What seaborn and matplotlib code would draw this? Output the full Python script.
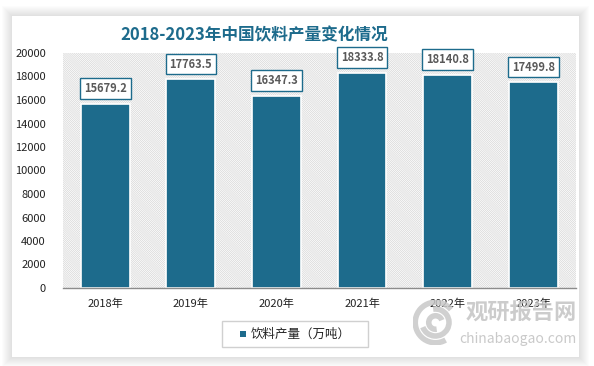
import matplotlib
matplotlib.use("Agg")
import matplotlib.pyplot as plt
import seaborn as sns
import pandas as pd
from matplotlib.patches import Rectangle, Arc

years = ["2018年", "2019年", "2020年", "2021年", "2022年", "2023年"]
values = [15679.2, 17763.5, 16347.3, 18333.8, 18140.8, 17499.8]
yticks = [0, 2000, 4000, 6000, 8000, 10000, 12000, 14000, 16000, 18000, 20000]
title = "2018-2023年中国饮料产量变化情况"
series_name = "饮料产量（万吨）"

sns.set_theme(style="white")
plt.rcParams['font.family'] = ['Noto Sans CJK SC', 'DejaVu Sans']
plt.rcParams['hatch.linewidth'] = 0.5

W, H = 594, 366
fig = plt.figure(figsize=(W / 100, H / 100), dpi=100)
fig.patch.set_facecolor('white')

def fx(px):
    return px / W

def fy(py):
    return 1 - py / H

# soft card shadow
for d in range(10, 0, -1):
    fig.patches.append(Rectangle((fx(12 - d), fy(357 + d)), fx(567 + 2 * d), (341 + 2 * d) / H,
                                 transform=fig.transFigure, facecolor='black', alpha=0.012,
                                 edgecolor='none', zorder=0))
fig.patches.append(Rectangle((fx(12), fy(357)), fx(567), 341 / H, transform=fig.transFigure,
                             facecolor='white', edgecolor='none', zorder=0.5))

ax = fig.add_axes([fx(62.5), fy(288), fx(576 - 62.5), (288 - 53) / H])
ax.set_zorder(2)
ax.set_facecolor('white')
ax.add_patch(Rectangle((0, 0), 1, 1, transform=ax.transAxes, facecolor='white',
                       edgecolor='#d6d6d6', linewidth=0, hatch='\\' * 16, zorder=0))

df = pd.DataFrame({"year": years, "value": values})
bar_color = '#1d6b8c'
sns.barplot(data=df, x="year", y="value", color=bar_color, width=0.57, ax=ax,
            saturation=1, zorder=2, edgecolor='white', linewidth=1.2)

ax.set_ylim(0, 20000)
ax.set_xlim(-0.5, len(years) - 0.5)
ax.set_yticks(yticks)
ax.set_yticklabels([str(v) for v in yticks], fontsize=8, color='#222222')
ax.tick_params(axis='x', labelsize=8, colors='#222222', pad=8, length=0)
ax.tick_params(axis='y', length=0, pad=12)
ax.set_xlabel("")
ax.set_ylabel("")
for s in ['top', 'right', 'left']:
    ax.spines[s].set_visible(False)
ax.spines['bottom'].set_color('#8c8c8c')
ax.spines['bottom'].set_linewidth(1)
ax.spines['bottom'].set_zorder(3)

for i, v in enumerate(values):
    ax.annotate(f"{v:.1f}", (i, v), xytext=(0, 11), textcoords='offset points',
                ha='center', va='center', fontsize=8, fontweight='bold', color='#595959',
                bbox=dict(boxstyle='square,pad=0.35', facecolor='white', edgecolor='#1d6b8c',
                          linewidth=1), zorder=5, annotation_clip=False)

fig.text(fx(254), fy(35), title, fontsize=12, fontweight='bold', color='#1d6b8c',
         ha='center', va='center', zorder=3)

# legend
fig.patches.append(Rectangle((fx(222), fy(347)), fx(146), 26 / H, transform=fig.transFigure,
                             facecolor='white', edgecolor='#d0d0d0', linewidth=1, zorder=3))
fig.patches.append(Rectangle((fx(240), fy(337)), fx(6), 6 / H, transform=fig.transFigure,
                             facecolor=bar_color, edgecolor='none', zorder=4))
fig.text(fx(251), fy(334), series_name, fontsize=9, color='#222222', ha='left', va='center',
         zorder=4)

# watermark
fig.text(fx(466), fy(313), "观研报告网", fontsize=16, fontweight='bold', color='#c4c4c4',
         ha='left', va='center', alpha=0.85, zorder=6)
fig.text(fx(459), fy(339), "chinabaogao.com", fontsize=10, color='#c4c4c4',
         ha='left', va='center', alpha=0.9, zorder=6)
wax = fig.add_axes([fx(413), fy(345), fx(45), 45 / H])
wax.set_zorder(5)
wax.set_xlim(-1, 1)
wax.set_ylim(-1, 1)
wax.axis('off')
wax.set_aspect('equal')
for r, t1, t2 in [(0.9, 40, 300), (0.6, 200, 460), (0.3, 20, 280)]:
    wax.add_patch(Arc((0, 0), 2 * r, 2 * r, theta1=t1, theta2=t2, color='#c8c8c8', linewidth=4,
                      alpha=0.85))

fig.savefig("out.png", dpi=100)
